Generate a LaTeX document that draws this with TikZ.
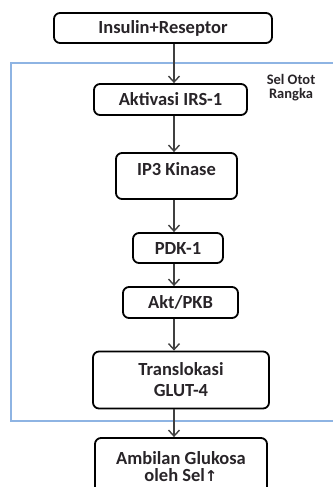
\documentclass[tikz,border=0pt]{standalone}
\usepackage{fontspec}
\setmainfont{Carlito}
\usetikzlibrary{arrows.meta}

\definecolor{framblue}{RGB}{142,180,227}
\definecolor{arrgray}{RGB}{64,64,64}
\definecolor{txtdark}{RGB}{40,36,40}

\tikzset{
	stepbox/.style={draw=black,line width=1.8pt,rounded corners=6pt,align=center,
		font=\fontsize{18.5}{21}\selectfont\bfseries,text=txtdark},
	flow/.style={-{Straight Barb[length=6pt,width=11pt]},draw=arrgray,line width=1.4pt}
}

\begin{document}
\begin{tikzpicture}[x=1pt,y=-1pt]
			\useasboundingbox (0,0) rectangle (332,487);
			% sel otot rangka
			\draw[framblue,line width=1.5pt] (340,63) -- (11,63) -- (11,421) -- (340,421);
			\node[align=center,text=txtdark,font=\fontsize{14.5}{14}\selectfont\bfseries] (sel) at (291,88) {Sel Otot\\Rangka};
			\node[stepbox,minimum width=218pt,minimum height=30pt] (ins) at (163,28) {Insulin+Reseptor};
			\node[stepbox,minimum width=153pt,minimum height=31pt] (irs) at (170.5,99.5) {Aktivasi IRS-1};
			\node[stepbox,minimum width=121pt,minimum height=46pt,text depth=13pt] (ip3) at (176.5,176) {IP3 Kinase};
			\node[stepbox,minimum width=90pt,minimum height=30pt] (pdk) at (178,248) {PDK-1};
			\node[stepbox,minimum width=115pt,minimum height=31pt] (akt) at (180.5,302.5) {Akt/PKB};
			\node[stepbox,minimum width=176pt,minimum height=57pt] (glut) at (181,380) {Translokasi\\GLUT-4};
			\node[stepbox,minimum width=172pt,minimum height=58pt,font=\fontsize{18.5}{17}\selectfont\bfseries] (amb) at (181,467) {Ambilan Glukosa\\oleh Sel{\fontspec{DejaVu Sans}\fontsize{15}{15}\selectfont\textbf{↑}}};
			\coordinate (ax) at (174,0);
			\draw[flow] (ins.south -| ax) -- (irs.north -| ax);
			\draw[flow] (irs.south -| ax) -- (ip3.north -| ax);
			\draw[flow] (ip3.south -| ax) -- (pdk.north -| ax);
			\draw[flow] (pdk.south -| ax) -- (akt.north -| ax);
			\draw[flow] (akt.south -| ax) -- (glut.north -| ax);
			\draw[flow] (glut.south -| ax) -- (amb.north -| ax);
		\end{tikzpicture}
\end{document}
